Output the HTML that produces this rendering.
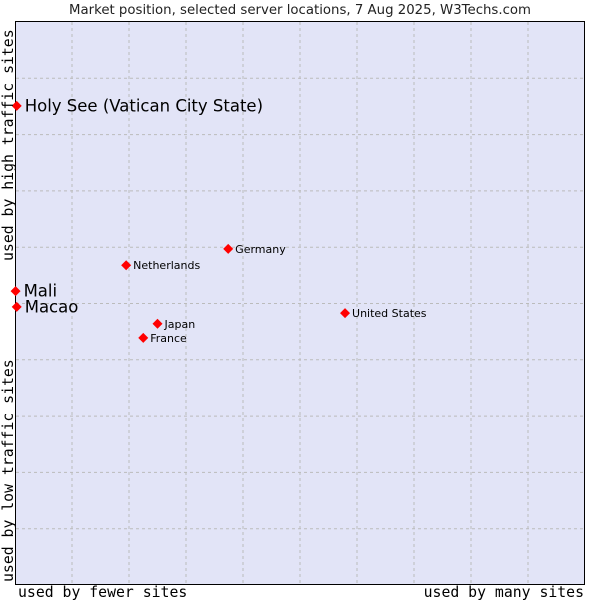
<!DOCTYPE html>
<html><head><meta charset="utf-8"><style>
body{margin:0;background:#fff;width:600px;height:600px;overflow:hidden}
svg text{font-family:"DejaVu Sans","Liberation Sans",sans-serif}
.mono{font-family:"DejaVu Sans Mono","Liberation Mono",monospace!important}
</style></head><body>
<svg id="chart" width="600" height="600">
<text x="300" y="14" text-anchor="middle" font-size="13.3" fill="#222">Market position, selected server locations, 7 Aug 2025, W3Techs.com</text>
<rect x="15.5" y="21.5" width="569" height="563" fill="#e2e4f7" stroke="#000"/>
<g id="grid"></g>
<g id="points"></g>
<text class="mono" x="18" y="597" font-size="14.8" fill="#000">used by fewer sites</text>
<text class="mono" x="584" y="597" font-size="14.8" text-anchor="end" fill="#000">used by many sites</text>
<text class="mono" transform="translate(13,582) rotate(-90)" font-size="14.8" fill="#000">used by low traffic sites</text>
<text class="mono" transform="translate(13,261) rotate(-90)" font-size="14.8" fill="#000">used by high traffic sites</text>
</svg>
<script>
const names=["Holy See (Vatican City State)","Mali","Macao","Netherlands","Germany","United States","Japan","France"];
const xVals=[0.3,0.1,0.3,19.5,37.4,57.9,25.0,22.5];
const yVals=[85.1,52.2,49.4,56.8,59.7,48.3,46.4,43.9];
const bigLabel=[true,true,true,false,false,false,false,false];
const NS="http://www.w3.org/2000/svg";
const X=v=>15+v*5.7, Y=v=>585-v*5.63;
const g=document.getElementById('grid');
for(let i=1;i<10;i++){
 const l=document.createElementNS(NS,'line');
 l.setAttribute('x1',X(i*10));l.setAttribute('x2',X(i*10));l.setAttribute('y1',22);l.setAttribute('y2',584);
 l.setAttribute('stroke','#bbb');l.setAttribute('stroke-dasharray','3,3');
 
 
 g.appendChild(l);
 const h=document.createElementNS(NS,'line');
 h.setAttribute('y1',Y(i*10));h.setAttribute('y2',Y(i*10));h.setAttribute('x1',16);h.setAttribute('x2',584);
 h.setAttribute('stroke','#bbb');h.setAttribute('stroke-dasharray','3,3');
 
 
 g.appendChild(h);
}
const p=document.getElementById('points');
names.forEach((n,i)=>{
 const x=X(xVals[i]),y=Y(yVals[i]);
 const d=document.createElementNS(NS,'path');
 d.setAttribute('d',`M${x-5},${y}L${x},${y-5}L${x+5},${y}L${x},${y+5}Z`);
 d.setAttribute('fill','#f00');
 
 
 p.appendChild(d);
 const t=document.createElementNS(NS,'text');
 t.setAttribute('x',x+(bigLabel[i]?8:7));t.setAttribute('y',y+(bigLabel[i]?5.5:4));
 t.setAttribute('font-size',bigLabel[i]?16.5:11);t.setAttribute('fill','#000');
 t.textContent=n;
 
 
 p.appendChild(t);
});
</script>
</body></html>
